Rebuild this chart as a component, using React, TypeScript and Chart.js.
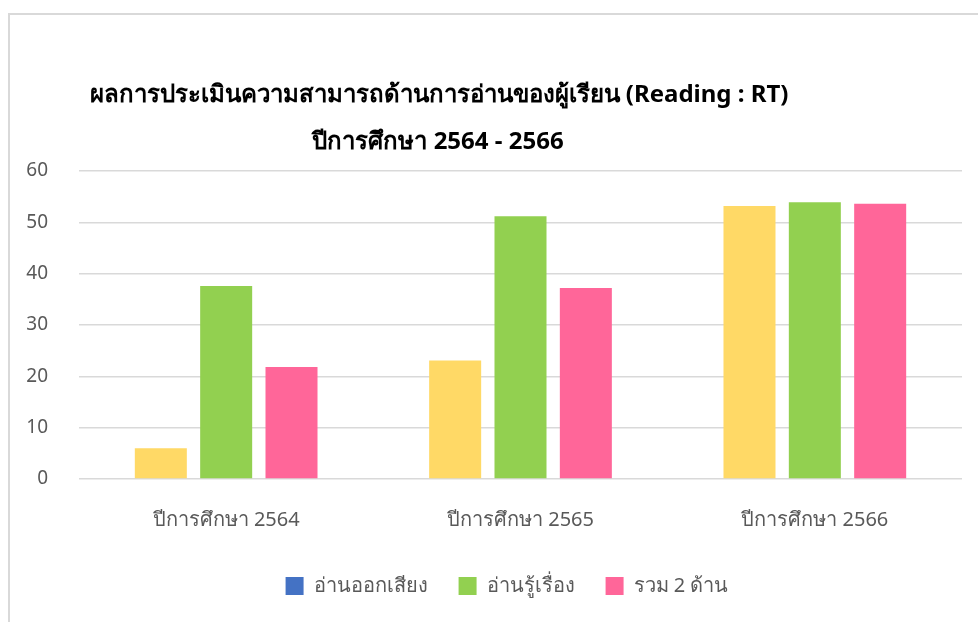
import React, { useEffect, useRef } from "react";
import { Chart, registerables } from "chart.js";

Chart.register(...registerables);

const categories = ["ปีการศึกษา 2564", "ปีการศึกษา 2565", "ปีการศึกษา 2566"];
const seriesNames = ["อ่านออกเสียง", "อ่านรู้เรื่อง", "รวม 2 ด้าน"];
const readAloud = [6.0, 23.1, 53.2];
const readUnderstand = [37.6, 51.2, 53.9];
const combined = [21.8, 37.2, 53.6];
const titleLines = [
  "ผลการประเมินความสามารถด้านการอ่านของผู้เรียน (Reading : RT)",
  "ปีการศึกษา 2564 - 2566",
];

const FONT = "'Noto Sans', 'DejaVu Sans', sans-serif";

export default function App() {
  const ref = useRef<HTMLCanvasElement>(null);
  useEffect(() => {
    const titlePlugin = {
      id: "customTitle",
      afterLayout(chart: any) {
        const lg = chart.legend;
        if (lg) {
          lg.left += 26;
          lg.right += 26;
        }
      },
      afterDraw(chart: any) {
        const ctx = chart.ctx;
        ctx.save();
        ctx.fillStyle = "#000000";
        ctx.font = `bold 24px ${FONT}`;
        ctx.textAlign = "center";
        ctx.textBaseline = "middle";
        ctx.fillText(titleLines[0], 439, 95);
        ctx.fillText(titleLines[1], 438, 142);
        ctx.restore();
      },
    };
    const chart = new Chart(ref.current!, {
      type: "bar",
      data: {
        labels: categories,
        datasets: [
          { label: seriesNames[0], data: readAloud, backgroundColor: "#FFD966" },
          { label: seriesNames[1], data: readUnderstand, backgroundColor: "#92D050" },
          { label: seriesNames[2], data: combined, backgroundColor: "#FF6699" },
        ],
      },
      options: {
        responsive: false,
        animation: false,
        layout: { padding: { top: 171, right: 16, left: 0, bottom: 16 } },
        datasets: {
          bar: { categoryPercentage: 0.666, barPercentage: 0.796 },
        },
        scales: {
          x: {
            grid: { display: false, drawTicks: false },
            border: { display: false },
            ticks: { color: "#595959", font: { size: 20, family: FONT }, padding: 29 },
            afterFit(scale: any) {
              scale.height = 66;
            },
          },
          y: {
            min: 0,
            max: 60,
            grid: { color: "#d9d9d9", lineWidth: 1.5, drawTicks: false },
            border: { display: false },
            ticks: {
              stepSize: 10,
              color: "#595959",
              font: { size: 19, family: FONT },
              padding: 31,
            },
            afterFit(scale: any) {
              scale.width = 79;
            },
          },
        },
        plugins: {
          tooltip: { enabled: false },
          legend: {
            position: "bottom",
            labels: {
              boxWidth: 18,
              boxHeight: 18,
              padding: 31,
              color: "#595959",
              font: { size: 20, family: FONT },
              generateLabels(chart: any) {
                const items = Chart.defaults.plugins.legend.labels.generateLabels(chart);
                items.forEach((it: any) => {
                  it.lineWidth = 0;
                  it.strokeStyle = "rgba(0,0,0,0)";
                });
                if (items[0]) items[0].fillStyle = "#4472C4";
                return items;
              },
            },
          },
        },
      },
      plugins: [titlePlugin],
    });
    return () => chart.destroy();
  }, []);
  return (
    <div style={{ position: "fixed", left: 0, top: 0, width: 978, height: 622, overflow: "hidden", background: "#fff" }}>
      <div
        style={{
          position: "absolute",
          left: 8,
          top: 13,
          width: 1100,
          height: 800,
          borderTop: "2px solid #d9d9d9",
          borderLeft: "2px solid #d9d9d9",
        }}
      />
      <canvas ref={ref} width={978} height={622} style={{ position: "absolute", left: 0, top: 0 }} />
    </div>
  );
}
